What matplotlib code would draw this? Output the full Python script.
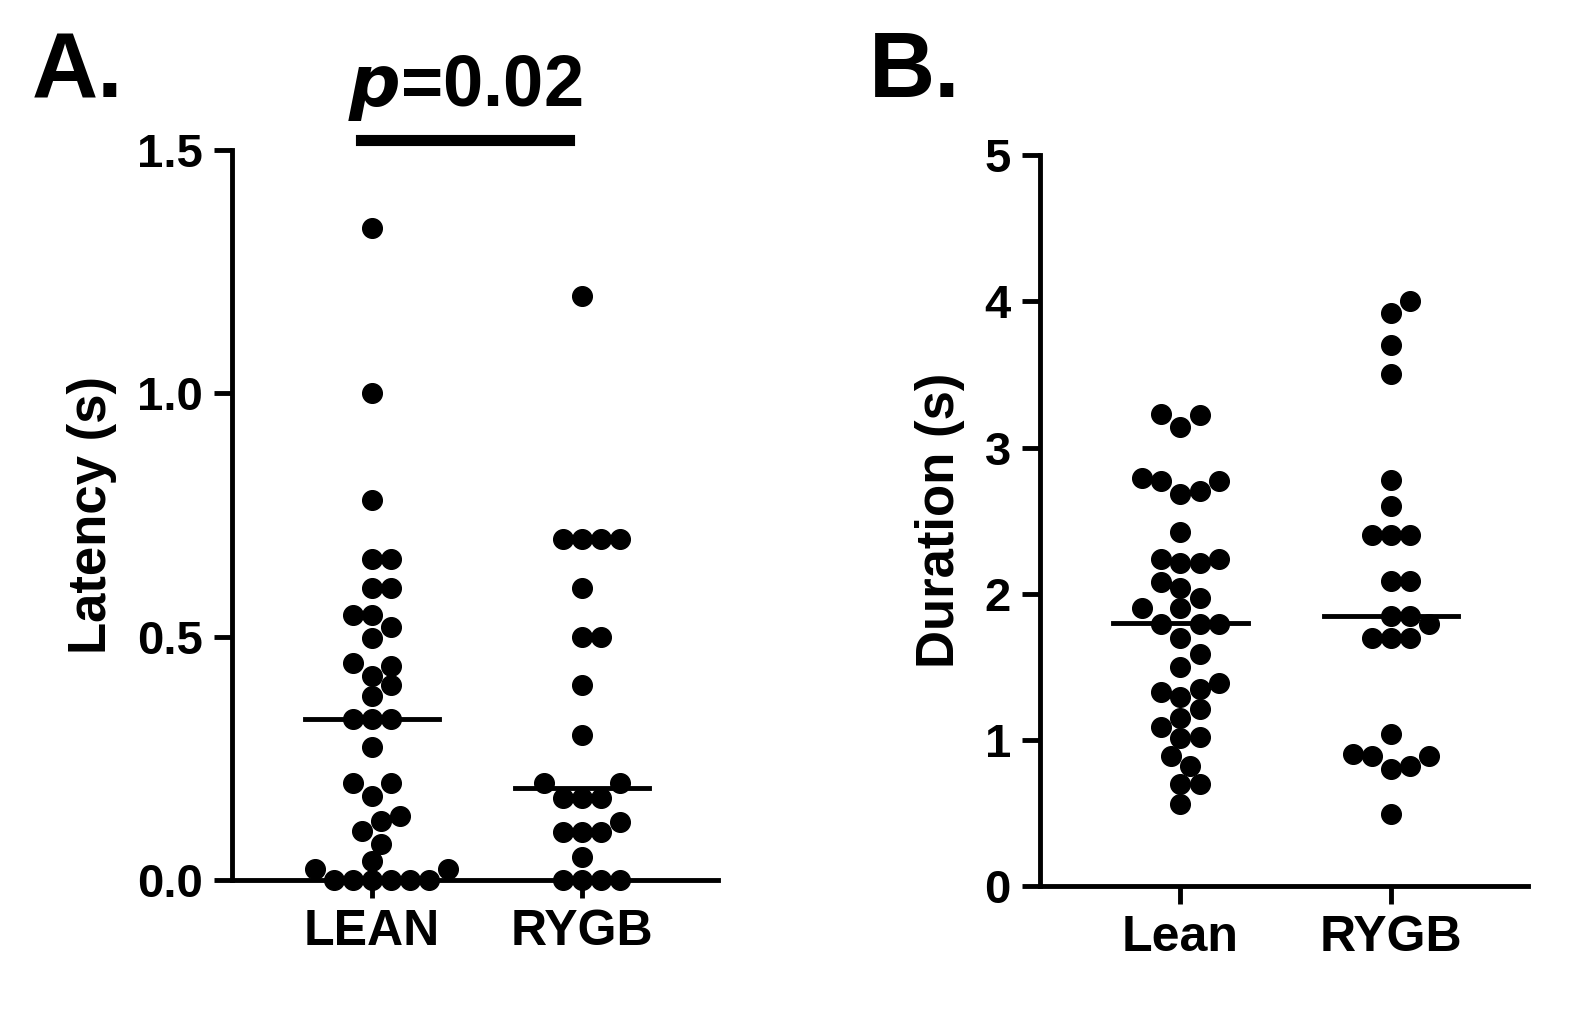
import numpy as np
import matplotlib
matplotlib.use('Agg')
import matplotlib.pyplot as plt

plt.rcParams['font.family'] = 'Liberation Sans'
plt.rcParams['font.weight'] = 'bold'
plt.rcParams['axes.labelweight'] = 'bold'

# panel A: latency (s)
lean_lat = [1.34, 1.0, 0.78, 0.66, 0.66, 0.60, 0.60, 0.544, 0.544, 0.52, 0.497,
            0.446, 0.44, 0.42, 0.40, 0.378, 0.33, 0.33, 0.33, 0.274, 0.199, 0.199,
            0.172, 0.132, 0.121, 0.101, 0.074, 0.04, 0.023, 0.023,
            0, 0, 0, 0, 0, 0]
rygb_lat = [1.2, 0.7, 0.7, 0.7, 0.7, 0.6, 0.5, 0.5, 0.4, 0.297, 0.199, 0.199,
            0.169, 0.169, 0.169, 0.12, 0.098, 0.098, 0.098, 0.047, 0, 0, 0, 0]
lat_medians = [0.33, 0.19]

# panel B: duration (s)
lean_dur = [3.23, 3.22, 3.14, 2.79, 2.77, 2.77, 2.70, 2.68, 2.42, 2.24, 2.24, 2.21, 2.21,
            2.08, 2.04, 1.97, 1.90, 1.90, 1.79, 1.79, 1.79, 1.70, 1.59, 1.50, 1.39,
            1.35, 1.33, 1.29, 1.21, 1.15, 1.09, 1.02, 1.01, 0.89, 0.82, 0.70, 0.70, 0.56]
rygb_dur = [4.0, 3.92, 3.7, 3.5, 2.78, 2.60, 2.40, 2.40, 2.40, 2.09, 2.09, 1.85, 1.85,
            1.79, 1.70, 1.70, 1.70, 1.04, 0.90, 0.89, 0.89, 0.82, 0.80, 0.49]
dur_medians = [1.80, 1.85]


def swarm(vals, ypx, xpx, d=19.0):
    # simple beeswarm in pixel space, returns x offsets in data units
    order = np.argsort(vals)
    placed = []
    offs = np.zeros(len(vals))
    for i in order:
        y = vals[i] * ypx
        for k in range(0, 40):
            cands = [0.0] if k == 0 else [k * d * 0.5, -k * d * 0.5]
            ok = None
            for c in cands:
                if all((c - px) ** 2 + (y - py) ** 2 >= d * d for px, py in placed):
                    ok = c
                    break
            if ok is not None:
                break
        placed.append((ok, y))
        offs[i] = ok / xpx
    return offs


fig = plt.figure(figsize=(15.94, 10.25), dpi=100)
axA = fig.add_axes([0.1455, 0.1415, 0.305, 0.712])
axB = fig.add_axes([0.6525, 0.1356, 0.306, 0.713])


def style(ax):
    for s in ['top', 'right']:
        ax.spines[s].set_visible(False)
    for s in ['left', 'bottom']:
        ax.spines[s].set_linewidth(3.5)
    ax.tick_params(width=3.5, length=13, labelsize=34, pad=8)
    ax.set_xlim(-0.667, 1.65)


for ax, groups, meds, ypx in [(axA, [lean_lat, rygb_lat], lat_medians, 486.7),
                              (axB, [lean_dur, rygb_dur], dur_medians, 146.2)]:
    for i, g in enumerate(groups):
        g = np.array(g)
        xo = swarm(g, ypx, 210.0)
        ax.scatter(i + xo, g, s=200, color='black', clip_on=False, zorder=3)
        ax.plot([i - 0.32, i + 0.32], [meds[i], meds[i]], color='black', lw=3.5, zorder=4)
    style(ax)

axA.set_ylim(0, 1.5)
axA.set_yticks([0, 0.5, 1.0, 1.5])
axA.set_yticklabels(['0.0', '0.5', '1.0', '1.5'])
axA.set_xticks([0, 1])
axA.set_xticklabels(['LEAN', 'RYGB'], fontsize=36)
axA.set_ylabel('Latency (s)', fontsize=38, labelpad=14)
axA.plot([-0.05, 0.94], [1.52, 1.52], color='black', lw=8, clip_on=False)
axA.text(0.445, 1.555, r'$\mathbfit{p}$=0.02', ha='center', va='bottom', fontsize=52)
fig.text(0.02, 0.905, 'A.', fontsize=66)

axB.set_ylim(0, 5)
axB.set_yticks([0, 1, 2, 3, 4, 5])
axB.set_xticks([0, 1])
axB.set_xticklabels(['Lean', 'RYGB'], fontsize=36)
axB.set_ylabel('Duration (s)', fontsize=38, labelpad=14)
fig.text(0.545, 0.905, 'B.', fontsize=66)

fig.savefig('out.png', dpi=100)
